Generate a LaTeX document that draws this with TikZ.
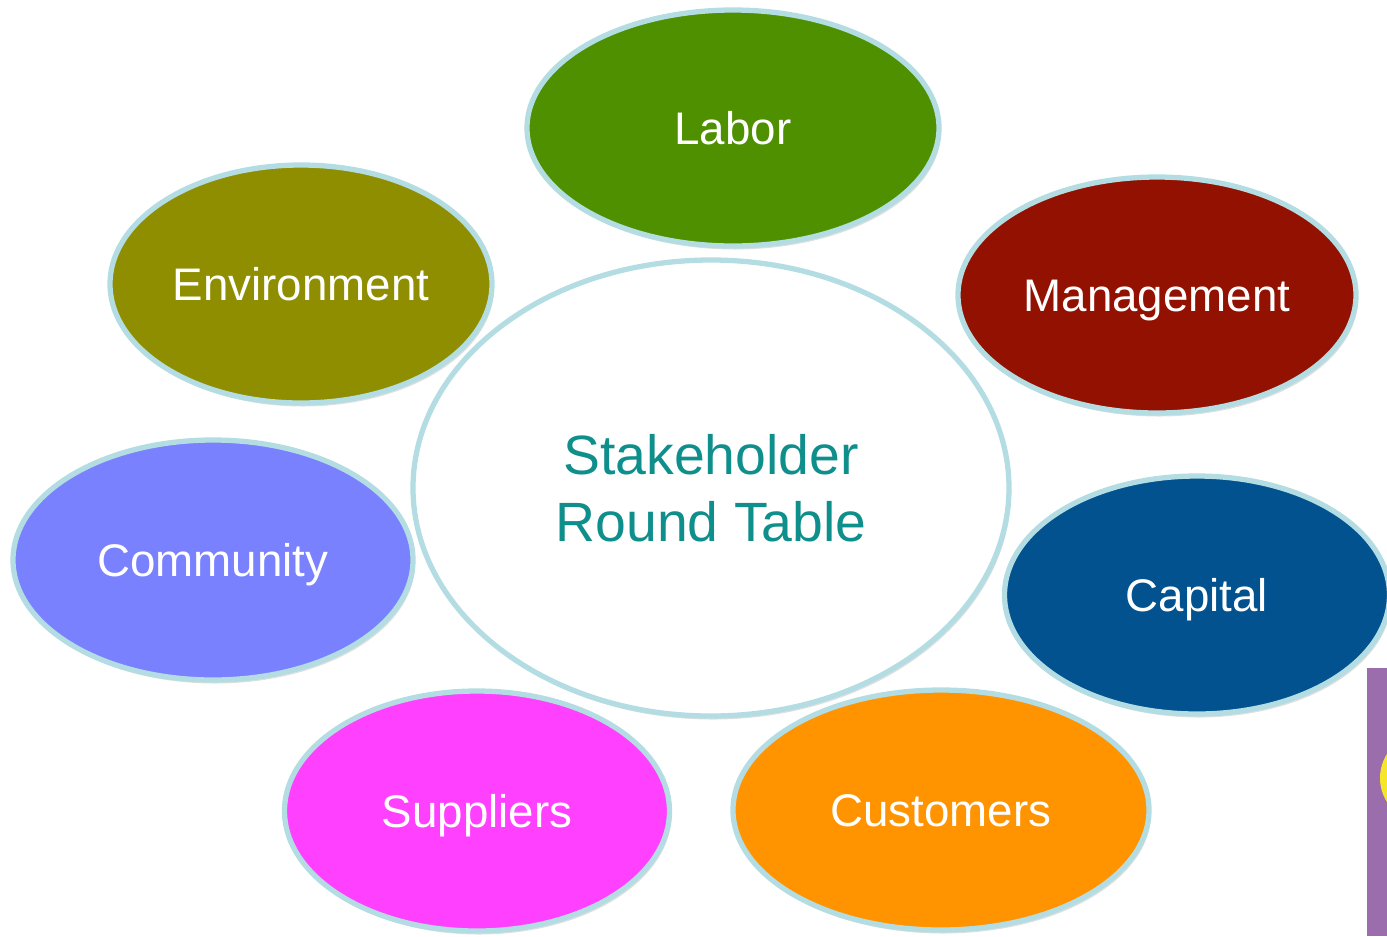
\documentclass[tikz,border=0pt]{standalone}
\usepackage{fontspec}
\setmainfont{Liberation Sans}
\usepackage{tikz}
\usetikzlibrary{shapes.geometric,shadows}
\usepackage{xcolor}

\definecolor{rim}{HTML}{B3DDE2}
\definecolor{labor}{HTML}{4E9000}
\definecolor{environment}{HTML}{8F8E00}
\definecolor{management}{HTML}{921100}
\definecolor{community}{HTML}{7A81FF}
\definecolor{capital}{HTML}{01528F}
\definecolor{suppliers}{HTML}{FF40FF}
\definecolor{customers}{HTML}{FF9300}
\definecolor{teal}{HTML}{0F8F8C}
\definecolor{sidebar}{HTML}{9C6DAD}
\definecolor{sun}{HTML}{F5E62A}

\begin{document}
\begin{tikzpicture}[
        stake/.style={ellipse, draw=rim, line width=3pt, inner sep=0pt,
                      text=white, font=\fontsize{26}{30}\selectfont,
                      text height=18.6pt, text depth=0pt,
                      drop shadow={opacity=0.25, shadow xshift=0.04cm, shadow yshift=-0.07cm}},
        table/.style={ellipse, draw=rim, line width=3pt, fill=white, inner sep=0pt,
                      text=teal, align=center, font=\fontsize{31.5}{38}\selectfont,
                      drop shadow={opacity=0.25, shadow xshift=0.04cm, shadow yshift=-0.07cm}}
    ]
        \useasboundingbox (0,0) rectangle (27.74,-18.72);
        % Purple strip at the right edge (cut off)
        \fill [sidebar] (27.34,-13.36) rectangle (27.74,-18.72);
        \begin{scope}
            \clip (27.34,-13.36) rectangle (27.74,-18.72);
            \fill [sun] (28.5,-15.56) circle (0.9);
        \end{scope}
        % Round table in the middle
        \node[table, minimum width=11.92cm, minimum height=9.12cm] (round) at (14.22,-9.76)
            {Stakeholder\\Round Table};
        % Stakeholders around it
        \node[stake, fill=labor, minimum width=8.24cm, minimum height=4.72cm] (labor) at (14.66,-2.56) {Labor};
        \node[stake, fill=environment, minimum width=7.64cm, minimum height=4.76cm] (environment) at (6.02,-5.68) {Environment};
        \node[stake, fill=management, minimum width=7.96cm, minimum height=4.72cm] (management) at (23.14,-5.90) {Management};
        \node[stake, fill=community, minimum width=8.0cm, minimum height=4.8cm] (community) at (4.26,-11.2) {Community};
        \node[stake, fill=capital, minimum width=7.7cm, minimum height=4.76cm] (capital) at (23.94,-11.9) {Capital};
        \node[stake, fill=suppliers, minimum width=7.7cm, minimum height=4.8cm] (suppliers) at (9.54,-16.22) {Suppliers};
        \node[stake, fill=customers, minimum width=8.32cm, minimum height=4.8cm] (customers) at (18.82,-16.2) {Customers};
    \end{tikzpicture}
\end{document}
